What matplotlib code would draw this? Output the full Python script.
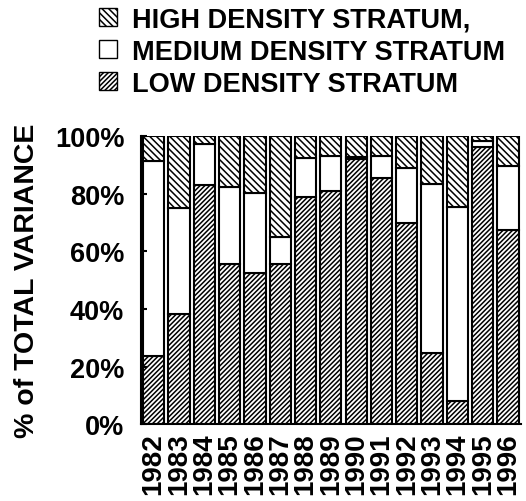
import numpy as np
import matplotlib.pyplot as plt
from matplotlib.patches import Patch

plt.rcParams['font.family'] = ['Liberation Sans', 'DejaVu Sans']
plt.rcParams['font.weight'] = 'bold'
plt.rcParams['hatch.linewidth'] = 1.1

years = ['1982', '1983', '1984', '1985', '1986', '1987', '1988', '1989',
         '1990', '1991', '1992', '1993', '1994', '1995', '1996']
# percent of total variance
low = [23.7, 38.4, 83.1, 55.6, 52.3, 55.6, 78.9, 80.8, 92.0, 85.3, 69.8, 24.7, 7.9, 96.1, 67.4]
low_plus_med = [91.2, 74.9, 97.2, 82.4, 80.4, 64.8, 92.4, 93.2, 92.8, 93.2, 88.8, 83.3, 75.5, 98.4, 89.5]

low = np.array(low)
medium = np.array(low_plus_med) - low
high = 100 - low - medium

fig = plt.figure(figsize=(5.26, 5.02), dpi=100)
ax = fig.add_axes([0.268, 0.153, 0.722, 0.574])

x = np.arange(len(years))
w = 0.84
ax.bar(x, low, w, color='white', edgecolor='black', hatch='///////', linewidth=1.5)
ax.bar(x, medium, w, bottom=low, color='white', edgecolor='black', linewidth=1.5)
ax.bar(x, high, w, bottom=low + medium, color='white', edgecolor='black', hatch='\\\\\\\\\\', linewidth=1.5)

ax.set_xlim(-0.5, len(years) - 0.5)
ax.set_ylim(0, 100)
ax.set_yticks([0, 20, 40, 60, 80, 100])
ax.set_yticklabels(['0%', '20%', '40%', '60%', '80%', '100%'], fontsize=19.5, fontweight='bold')
ax.set_xticks(x)
ax.set_xticklabels(years, rotation=90, fontsize=20, fontweight='bold')
ax.tick_params(axis='y', direction='in', length=4, width=1.5, pad=12)
ax.tick_params(axis='x', length=0, pad=6)
ax.set_ylabel('% of TOTAL VARIANCE', fontsize=20.5, fontweight='bold')
ax.yaxis.set_label_coords(-0.265, 0.5)
for s in ['top', 'right']:
    ax.spines[s].set_visible(False)
for s in ['left', 'bottom']:
    ax.spines[s].set_linewidth(1.5)

handles = [Patch(facecolor='white', edgecolor='black', hatch='\\\\\\\\\\'),
           Patch(facecolor='white', edgecolor='black'),
           Patch(facecolor='white', edgecolor='black', hatch='///////')]
labels = ['HIGH DENSITY STRATUM,', 'MEDIUM DENSITY STRATUM', 'LOW DENSITY STRATUM']
fig.legend(handles, labels, loc='upper left', bbox_to_anchor=(0.142, 1.033),
           frameon=False, prop={'size': 19.5, 'weight': 'bold'},
           handlelength=0.65, handleheight=0.65, handletextpad=0.55, labelspacing=0.22)

fig.savefig('out.png', dpi=100)
